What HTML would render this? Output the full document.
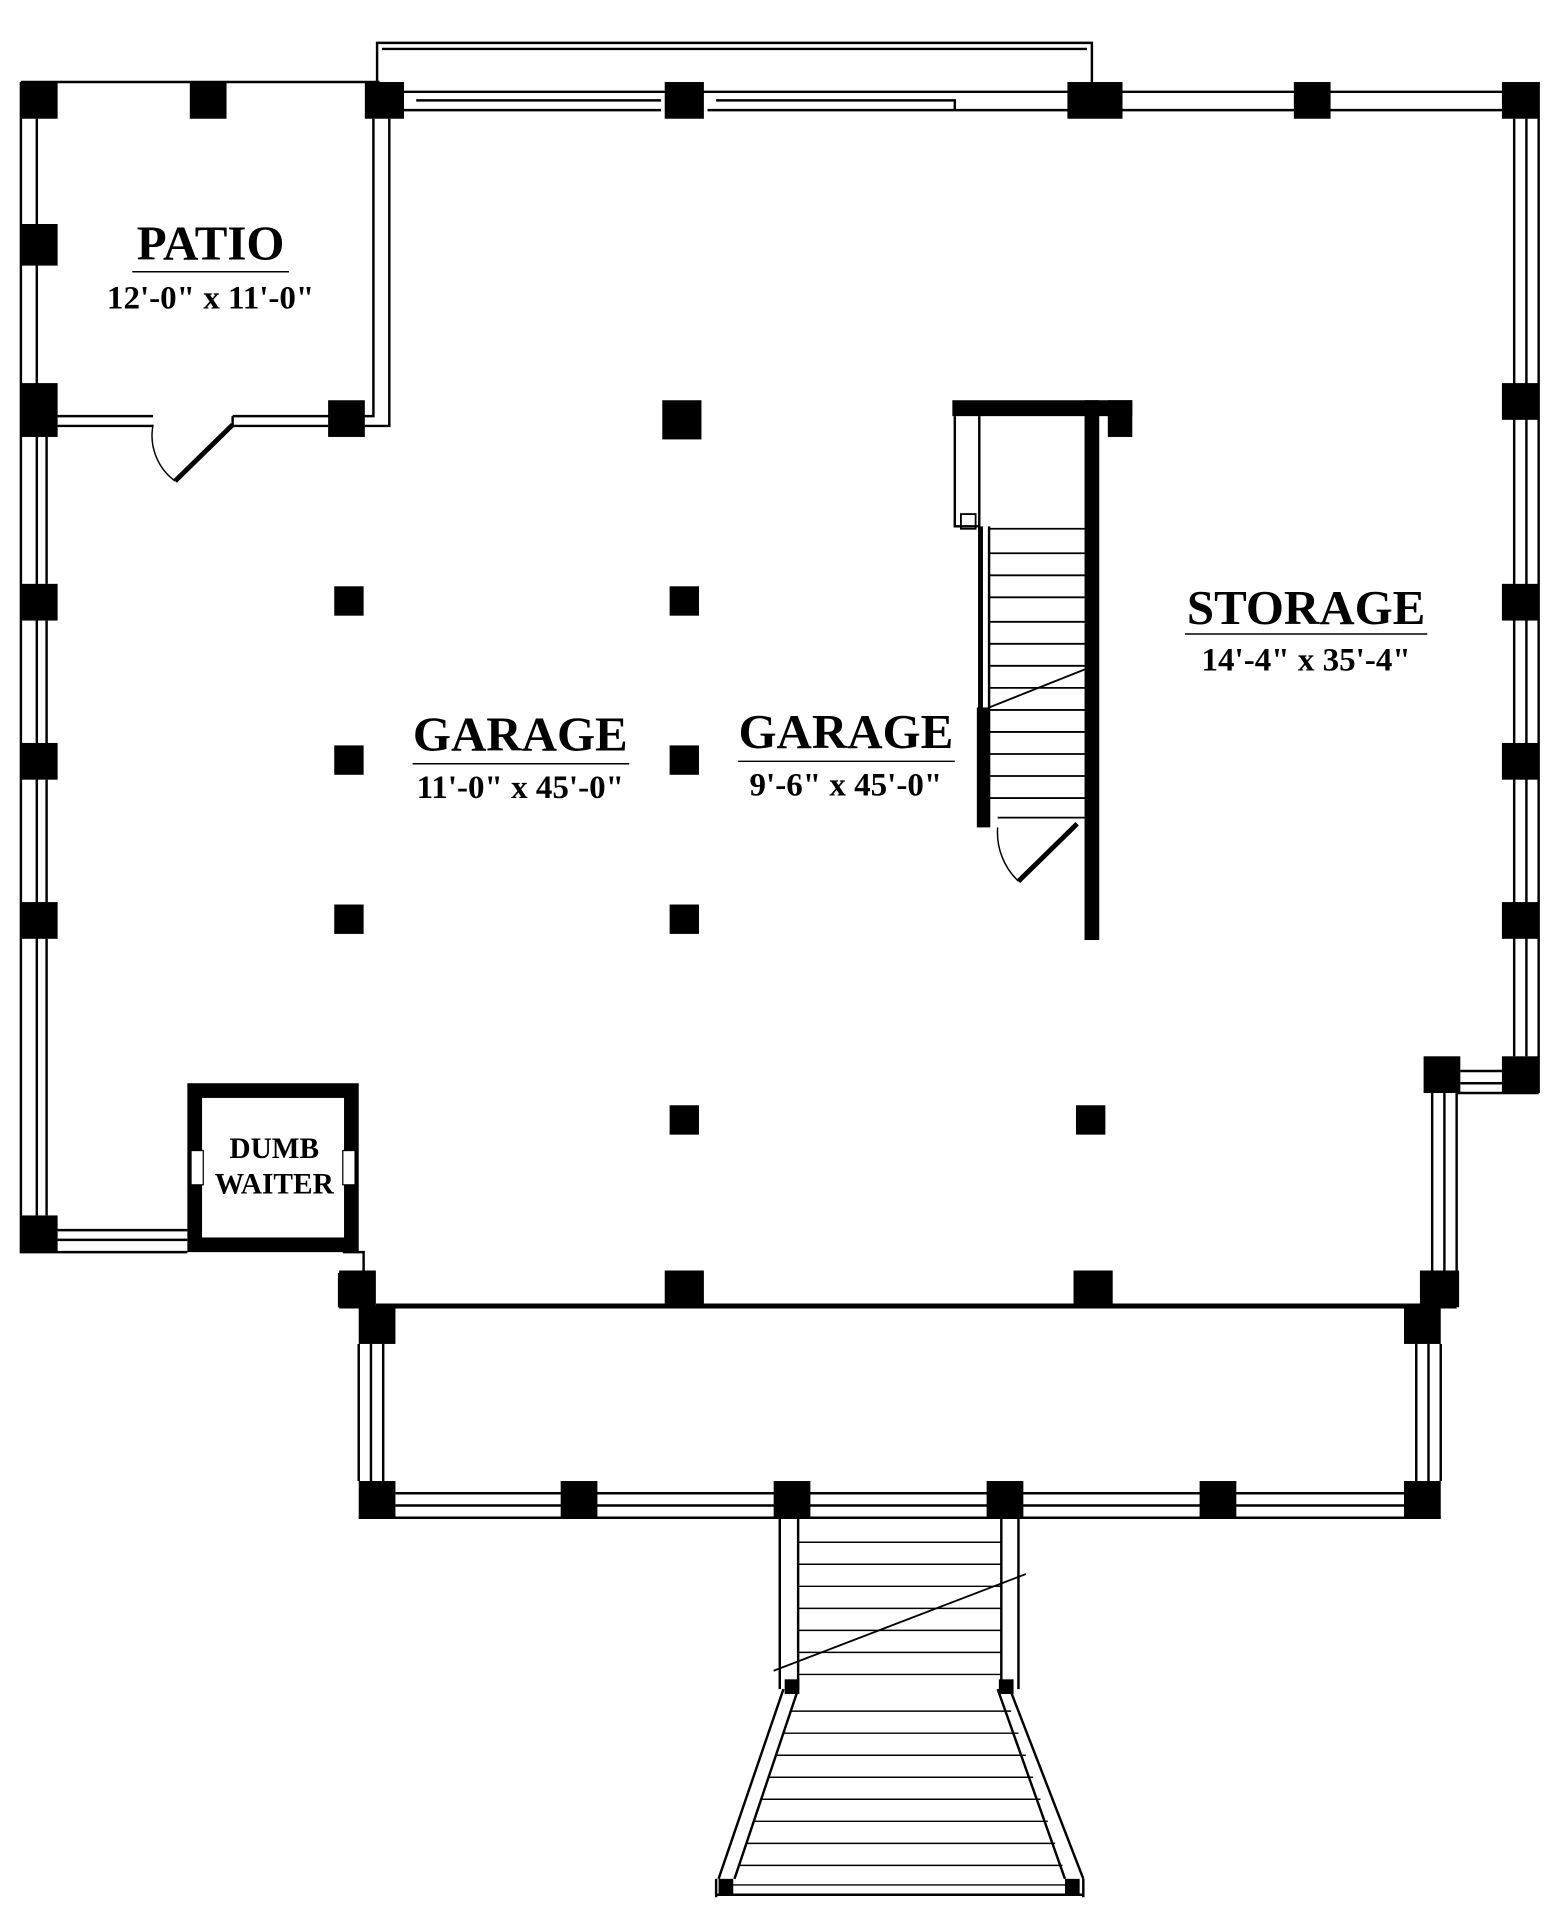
<!DOCTYPE html>
<html><head><style>html,body{margin:0;padding:0;background:#fff}svg{display:block}</style></head>
<body>
<svg width="1562" height="1918" viewBox="0 0 1276 1567" xmlns="http://www.w3.org/2000/svg" font-family="Liberation Serif, serif">
<g fill="none" stroke="#000" stroke-width="2">
<path d="M308 67 L308 35 L892 35 L892 67"/>
<path d="M312 40 L888 40"/>
<path d="M330 75 H1240 M330 90 H540 M578 90 H1240"/>
<path d="M340 82 H540 M585 82 H780 V90"/>
<path d="M17 67 V1023 H153 M30 97 V993"/>
<path d="M17 67 H310"/>
<path d="M305 97 V340 H190 M318 97 V348 H298 M47 340 H125 M47 348 H125 M190 348 H268"/>
<path d="M190 340 L190 348"/>
<path d="M143 393 L190 347" stroke-width="4"/>
<path d="M125 347 A46 46 0 0 0 143 393" stroke-width="1.2"/>
<path d="M38 357 V477 M38 507 V607 M38 637 V737 M38 767 V993"/>
<path d="M47 1005 H153 M47 1013 H153"/>
<path d="M1237 97 V863 M1257 67 V893 M1247 97 V863"/>
<path d="M1193 875 H1227 M1193 885 H1227 M1190 893 H1257"/>
<path d="M1170 893 V1038 M1190 893 V1038 M1180 893 V1038"/>
<path d="M277 1040 V1068 M277 1068 H1190 M307 1066 H1163"/>
<path d="M280 1023 H297 V1038"/>
<path d="M293 1098 V1210 M303 1098 V1210 M313 1098 V1210"/>
<path d="M1157 1098 V1210 M1167 1098 V1210 M1177 1098 V1210"/>
<path d="M323 1220 H1147 M323 1230 H1147 M293 1240 H1177"/>
<path d="M637 1240 V1380 M652 1240 V1380 M818 1240 V1380 M832 1240 V1380"/>
<path d="M652 1260 H818 M652 1278 H818 M652 1296 H818 M652 1314 H818 M652 1332 H818 M652 1350 H818 M652 1368 H818" stroke-width="1.2"/>
<path d="M632 1365 L838 1286" stroke-width="1.5"/>
<path d="M640 1380 L587 1535 M652 1380 L600 1535 M825 1380 L885 1535 M815 1380 L870 1535"/>
<path d="M585 1548 H885 M585 1535 V1550 M885 1535 V1550"/>
<g stroke-width="1.2">
<path d="M646 1398 H826 M640 1416 H832 M634 1434 H838 M628 1452 H844 M622 1470 H850 M616 1488 H856 M610 1506 H862 M604 1524 H868 M598 1540 H874"/>
</g>
<path d="M780 340 V430 H800 V578 M800 340 V430 M808 430 V578 M802 430 V578"/>
<rect x="785" y="420" width="12" height="12" stroke-width="1.5"/>
<g stroke-width="1.5">
<path d="M808 432 H886 M808 452 H886 M808 470 H886 M808 488 H886 M808 508 H886 M808 526 H886 M808 544 H886 M808 562 H886 M808 580 H886 M808 598 H886 M808 616 H886 M808 634 H886 M808 652 H886 M815 668 H886"/>
<path d="M808 578 L886 547"/>
</g>
<path d="M832 720 L880 673" stroke-width="4"/>
<path d="M815 676 A55 55 0 0 0 832 720" stroke-width="1.2"/>
</g>
<g fill="#000">
<rect x="778" y="327" width="147" height="13"/>
<rect x="905" y="327" width="20" height="30"/>
<rect x="886" y="327" width="12" height="441"/>
<rect x="798" y="578" width="11" height="98"/>
<rect x="17" y="67" width="30" height="30"/><rect x="155" y="67" width="30" height="30"/>
<rect x="298" y="67" width="32" height="30"/><rect x="543" y="67" width="32" height="30"/>
<rect x="872" y="67" width="45" height="30"/><rect x="1057" y="67" width="30" height="30"/>
<rect x="1227" y="67" width="30" height="30"/>
<rect x="17" y="183" width="30" height="34"/><rect x="17" y="313" width="30" height="44"/>
<rect x="17" y="477" width="30" height="30"/><rect x="17" y="607" width="30" height="30"/>
<rect x="17" y="737" width="30" height="30"/><rect x="17" y="993" width="30" height="30"/>
<rect x="268" y="327" width="30" height="30"/>
<rect x="1227" y="313" width="30" height="30"/><rect x="1227" y="477" width="30" height="30"/>
<rect x="1227" y="607" width="30" height="30"/><rect x="1227" y="737" width="30" height="30"/>
<rect x="1227" y="863" width="30" height="30"/><rect x="1163" y="863" width="30" height="30"/>
<rect x="277" y="1038" width="30" height="30"/><rect x="543" y="1038" width="32" height="30"/>
<rect x="877" y="1038" width="32" height="30"/><rect x="1160" y="1038" width="32" height="30"/>
<rect x="293" y="1068" width="30" height="30"/><rect x="1147" y="1068" width="30" height="30"/>
<rect x="293" y="1210" width="30" height="30"/><rect x="458" y="1210" width="30" height="30"/>
<rect x="632" y="1210" width="30" height="30"/><rect x="806" y="1210" width="30" height="30"/>
<rect x="980" y="1210" width="30" height="30"/><rect x="1147" y="1210" width="30" height="30"/>
<rect x="541" y="327" width="32" height="32"/>
<rect x="273" y="479" width="24" height="24"/><rect x="547" y="479" width="24" height="24"/>
<rect x="273" y="609" width="24" height="24"/><rect x="547" y="609" width="24" height="24"/>
<rect x="273" y="739" width="24" height="24"/><rect x="547" y="739" width="24" height="24"/>
<rect x="547" y="903" width="24" height="24"/><rect x="879" y="903" width="24" height="24"/>
<rect x="641" y="1372" width="12" height="12"/><rect x="816" y="1372" width="12" height="12"/>
<rect x="587" y="1535" width="12" height="12"/><rect x="870" y="1535" width="12" height="12"/>
</g>
<rect x="159" y="891" width="128" height="126" fill="none" stroke="#000" stroke-width="12"/>
<rect x="156" y="940" width="10" height="28" fill="#fff" stroke="#000" stroke-width="1"/>
<rect x="280" y="940" width="10" height="28" fill="#fff" stroke="#000" stroke-width="1"/>
<g text-anchor="middle" font-weight="bold" fill="#000">
<text x="224" y="946" font-size="24">DUMB</text>
<text x="224" y="975" font-size="24">WAITER</text>
<text x="172" y="212" font-size="40">PATIO</text>
<text x="172" y="252" font-size="27">12'-0" x 11'-0"</text>
<text x="425" y="613" font-size="40">GARAGE</text>
<text x="425" y="652" font-size="27">11'-0" x 45'-0"</text>
<text x="691" y="611" font-size="40">GARAGE</text>
<text x="691" y="650" font-size="27">9'-6" x 45'-0"</text>
<text x="1067" y="510" font-size="40">STORAGE</text>
<text x="1067" y="548" font-size="27">14'-4" x 35'-4"</text>
</g>
<g stroke="#000" stroke-width="1.2">
<path d="M108 222 H236 M337 624 H514 M603 622 H780 M968 518 H1166"/>
</g>
</svg>
</body></html>
